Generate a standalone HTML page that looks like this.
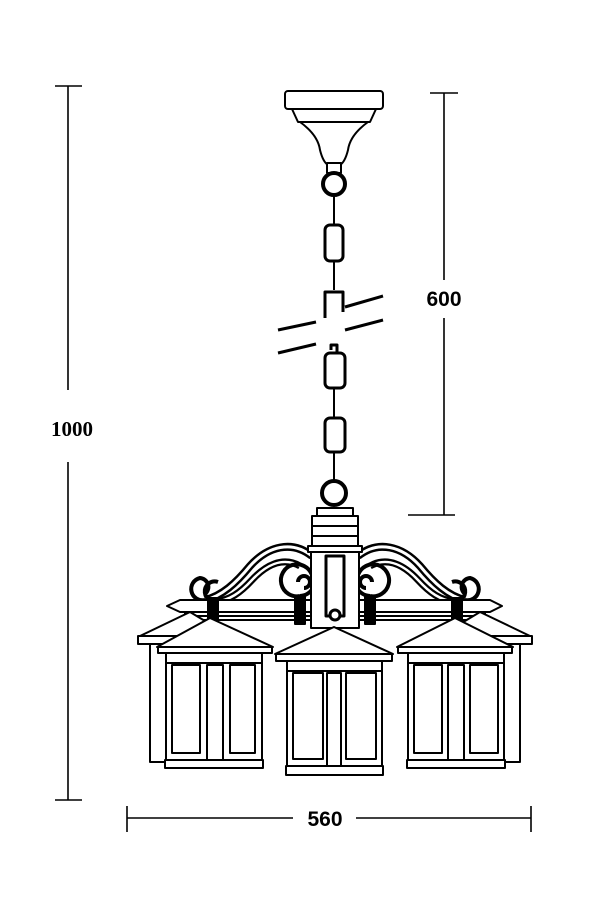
<!DOCTYPE html>
<html><head><meta charset="utf-8"><style>
html,body{margin:0;padding:0;background:#fff;}
svg{display:block;}
</style></head><body>
<svg width="604" height="900" viewBox="0 0 604 900" xmlns="http://www.w3.org/2000/svg">
<g stroke="#000" stroke-width="1.6" fill="none">
<line x1="68" y1="86" x2="68" y2="390"/>
<line x1="68" y1="462" x2="68" y2="800"/>
<line x1="55" y1="86" x2="82" y2="86"/>
<line x1="55" y1="800" x2="82" y2="800"/>
<line x1="444" y1="93" x2="444" y2="280"/>
<line x1="444" y1="318" x2="444" y2="515"/>
<line x1="430" y1="93" x2="458" y2="93"/>
<line x1="408" y1="515" x2="455" y2="515"/>
<line x1="127" y1="818" x2="293" y2="818"/>
<line x1="356" y1="818" x2="531" y2="818"/>
<line x1="127" y1="806" x2="127" y2="832"/>
<line x1="531" y1="806" x2="531" y2="832"/>
</g>
<text x="72" y="436" font-family="Liberation Serif,serif" font-weight="bold" font-size="21" text-anchor="middle">1000</text>
<text x="444" y="306" font-family="Liberation Sans,sans-serif" font-weight="bold" font-size="21" text-anchor="middle">600</text>
<text x="325" y="826" font-family="Liberation Sans,sans-serif" font-weight="bold" font-size="21" text-anchor="middle">560</text>

<g stroke="#000" stroke-width="2" fill="#fff" stroke-linejoin="round">
<rect x="285" y="91" width="98" height="18" rx="3"/>
<path d="M292 109 L376 109 L370 122 L298 122 Z"/>
<path d="M300 122 L368 122 Q350 135 348 150 Q345 162 340 165 L328 165 Q323 162 320 150 Q318 135 300 122 Z"/>
<rect x="327" y="163" width="14" height="10"/>
<circle cx="334" cy="184" r="11" stroke-width="4"/>
<line x1="334" y1="195" x2="334" y2="225"/>
<rect x="325" y="225" width="18" height="36" rx="5" stroke-width="3"/>
<line x1="334" y1="261" x2="334" y2="290"/>
<path d="M325 318 L325 292 L343 292 L343 312" fill="none" stroke-width="3"/>
<path d="M331 350 L331 345 L337 345 L337 352" fill="none" stroke-width="3"/>
<rect x="325" y="353" width="20" height="35" rx="5" stroke-width="3"/>
<line x1="334" y1="388" x2="334" y2="418"/>
<rect x="325" y="418" width="20" height="34" rx="5" stroke-width="3"/>
<line x1="334" y1="452" x2="334" y2="480"/>
<circle cx="334" cy="493" r="12" stroke-width="4"/>
</g>
<g stroke="#000" stroke-width="3">
<line x1="278" y1="330" x2="316" y2="322"/>
<line x1="345" y1="307" x2="383" y2="296"/>
<line x1="278" y1="353" x2="316" y2="344"/>
<line x1="345" y1="330" x2="383" y2="320"/>
</g>

<g stroke="#000" stroke-width="2" fill="#fff" stroke-linejoin="round">
<!-- scroll arms left -->
<g fill="none">
<path d="M312 556 C292 540 268 546 250 566 C236 583 222 596 205 600" stroke-width="8"/>
<path d="M312 556 C292 540 268 546 250 566 C236 583 222 596 205 600" stroke="#fff" stroke-width="3"/>
<path d="M300 566 C282 556 265 566 252 580 C240 593 230 600 215 602" stroke-width="7"/>
<path d="M300 566 C282 556 265 566 252 580 C240 593 230 600 215 602" stroke="#fff" stroke-width="2.5"/>
<path d="M312 575 A16 16 0 1 0 300 596 M300 596 A16 16 0 0 0 313 588" stroke-width="4"/>
<path d="M298 582 A6 6 0 1 1 304 588" stroke-width="4"/>
<path d="M205 600 A11 11 0 1 1 200 578 A9 9 0 0 1 205 594" stroke-width="4"/>
<path d="M220 600 A10 10 0 1 1 218 582" stroke-width="4"/>
<!-- right -->
<path d="M358 556 C378 540 402 546 420 566 C434 583 448 596 465 600" stroke-width="8"/>
<path d="M358 556 C378 540 402 546 420 566 C434 583 448 596 465 600" stroke="#fff" stroke-width="3"/>
<path d="M370 566 C388 556 405 566 418 580 C430 593 440 600 455 602" stroke-width="7"/>
<path d="M370 566 C388 556 405 566 418 580 C430 593 440 600 455 602" stroke="#fff" stroke-width="2.5"/>
<path d="M358 575 A16 16 0 1 1 370 596 M370 596 A16 16 0 0 1 357 588" stroke-width="4"/>
<path d="M372 582 A6 6 0 1 0 366 588" stroke-width="4"/>
<path d="M465 600 A11 11 0 1 0 470 578 A9 9 0 0 0 465 594" stroke-width="4"/>
<path d="M450 600 A10 10 0 1 0 452 582" stroke-width="4"/>
</g>
<!-- bar -->
<path d="M167 606 L180 600 L490 600 L502 606 L490 612 L180 612 Z"/>
<rect x="185" y="612" width="300" height="8"/>
<line x1="185" y1="616" x2="485" y2="616"/>
<rect x="208" y="598" width="10" height="22" fill="#000"/>
<rect x="452" y="598" width="10" height="22" fill="#000"/>
<rect x="295" y="596" width="10" height="28" fill="#000"/>
<rect x="365" y="596" width="10" height="28" fill="#000"/>
<!-- column -->
<rect x="317" y="508" width="36" height="8"/>
<rect x="312" y="516" width="46" height="30"/>
<line x1="312" y1="526" x2="358" y2="526"/>
<line x1="312" y1="536" x2="358" y2="536"/>
<rect x="308" y="546" width="54" height="6"/>
<rect x="311" y="552" width="48" height="76"/>
<rect x="326" y="556" width="18" height="60" stroke-width="3"/>
<circle cx="335" cy="615" r="5" stroke-width="3"/>

<path d="M140 636 L190 612 L230 636 Z"/>
<rect x="138" y="636" width="70" height="8"/>
<rect x="150" y="644" width="52" height="118"/>
<path d="M530 636 L480 612 L440 636 Z"/>
<rect x="462" y="636" width="70" height="8"/>
<rect x="468" y="644" width="52" height="118"/>

<path d="M157 647 L210 618 L273 647 Z"/>
<rect x="158" y="647" width="114" height="6"/>
<rect x="166" y="653" width="96" height="10"/>
<rect x="166" y="663" width="96" height="97"/>
<rect x="172" y="665" width="28" height="88"/>
<rect x="207" y="665" width="16" height="95"/>
<rect x="230" y="665" width="25" height="88"/>
<rect x="165" y="760" width="98" height="8"/>
<path d="M397 647 L455 618 L513 647 Z"/>
<rect x="398" y="647" width="114" height="6"/>
<rect x="408" y="653" width="96" height="10"/>
<rect x="408" y="663" width="96" height="97"/>
<rect x="414" y="665" width="28" height="88"/>
<rect x="448" y="665" width="16" height="95"/>
<rect x="470" y="665" width="28" height="88"/>
<rect x="407" y="760" width="98" height="8"/>
<path d="M275 654 L334 627 L393 654 Z"/>
<rect x="276" y="654" width="116" height="7"/>
<rect x="287" y="661" width="95" height="10"/>
<rect x="287" y="671" width="95" height="95"/>
<rect x="293" y="673" width="30" height="86"/>
<rect x="327" y="673" width="14" height="93"/>
<rect x="346" y="673" width="30" height="86"/>
<rect x="286" y="766" width="97" height="9"/>
</g>
</svg>
</body></html>
